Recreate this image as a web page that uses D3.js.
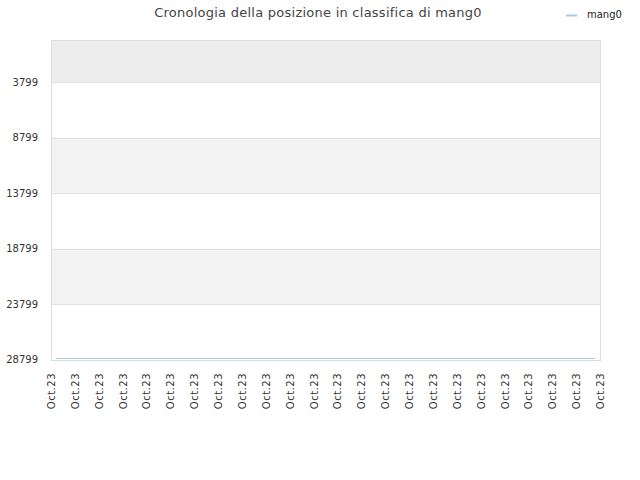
<!DOCTYPE html>
<html>
<head>
<meta charset="utf-8">
<script src="https://cdn.jsdelivr.net/npm/d3@7"></script>
<style>
  body { margin: 0; background: #fff; }
  svg { font-family: "DejaVu Sans", sans-serif; }
</style>
</head>
<body>
<svg id="chart" width="640" height="480"></svg>
<script>
// chart data
const tickLabels = ["Oct.23","Oct.23","Oct.23","Oct.23","Oct.23","Oct.23","Oct.23","Oct.23",
    "Oct.23","Oct.23","Oct.23","Oct.23","Oct.23","Oct.23","Oct.23","Oct.23",
    "Oct.23","Oct.23","Oct.23","Oct.23","Oct.23","Oct.23","Oct.23","Oct.23"];
const yTicks = [3799, 8799, 13799, 18799, 23799, 28799];
const seriesX = [0.21, 22.79];
const seriesRank = [28710, 28710];
const seriesName = "mang0";

const svg = d3.select("#chart");
const M = { left: 51, right: 600, top: 40, bottom: 360 };

const x = d3.scaleLinear().domain([0, tickLabels.length - 1]).range([M.left, M.right]);
const y = d3.scaleLinear().domain([15, 28844]).range([M.top, M.bottom]);

// alternating bands
const bands = [[15, 3799]].concat(d3.pairs(yTicks));
svg.append("g").selectAll("rect")
    .data(bands)
    .enter().append("rect")
    .attr("x", M.left)
    .attr("width", M.right - M.left)
    .attr("y", d => y(d[0]))
    .attr("height", d => y(d[1]) - y(d[0]))
    .attr("fill", (d, i) => i === 0 ? "#ededed" : (i % 2 === 0 ? "#f3f3f3" : "#ffffff"));

// grid lines
svg.append("g").selectAll("line")
    .data(yTicks)
    .enter().append("line")
    .attr("x1", M.left).attr("x2", M.right)
    .attr("y1", d => Math.round(y(d)) + 0.5).attr("y2", d => Math.round(y(d)) + 0.5)
    .attr("stroke", "#e0e0e0");

// frame
svg.append("rect")
    .attr("x", M.left + 0.5).attr("y", M.top + 0.5)
    .attr("width", M.right - M.left).attr("height", M.bottom - M.top)
    .attr("fill", "none").attr("stroke", "#dcdcdc");

// y axis labels
const yAxis = d3.axisLeft(y).tickValues(yTicks).tickFormat(d3.format("d"))
    .tickSize(0).tickPadding(13);
svg.append("g")
    .attr("transform", `translate(${M.left},0)`)
    .call(yAxis)
    .call(g => g.select(".domain").remove())
    .call(g => g.selectAll("text").attr("fill", "#333").attr("font-size", "10px")
        .attr("font-family", "DejaVu Sans, sans-serif"));

// x axis labels
const xAxis = d3.axisBottom(x).tickValues(d3.range(tickLabels.length))
    .tickFormat(i => tickLabels[i]).tickSize(0).tickPadding(0);
svg.append("g")
    .attr("transform", `translate(0,${M.bottom})`)
    .call(xAxis)
    .call(g => g.select(".domain").remove())
    .call(g => g.selectAll("text")
        .attr("fill", "#333").attr("font-size", "10px")
        .attr("font-family", "DejaVu Sans, sans-serif")
        .attr("letter-spacing", "0.5px")
        .attr("transform", "rotate(-90)")
        .attr("text-anchor", "end")
        .attr("x", -13).attr("y", 0).attr("dy", "0.35em"));

// series line
const line = d3.line().x((d, i) => x(seriesX[i])).y(d => y(d));
svg.append("path")
    .datum(seriesRank)
    .attr("d", line)
    .attr("fill", "none")
    .attr("stroke", "#a8c8ec")
    .attr("stroke-width", 1.2);

// title
svg.append("text")
    .attr("x", 318).attr("y", 17)
    .attr("text-anchor", "middle")
    .attr("font-size", "13px")
    .attr("letter-spacing", "0.25px")
    .attr("fill", "#444")
    .text("Cronologia della posizione in classifica di " + seriesName);

// legend
svg.append("line")
    .attr("x1", 566).attr("x2", 577).attr("y1", 15.5).attr("y2", 15.5)
    .attr("stroke", "#a8c8ec").attr("stroke-width", 2);
svg.append("text")
    .attr("x", 587).attr("y", 18)
    .attr("font-size", "10px").attr("fill", "#222")
    .text(seriesName);
</script>
</body>
</html>
